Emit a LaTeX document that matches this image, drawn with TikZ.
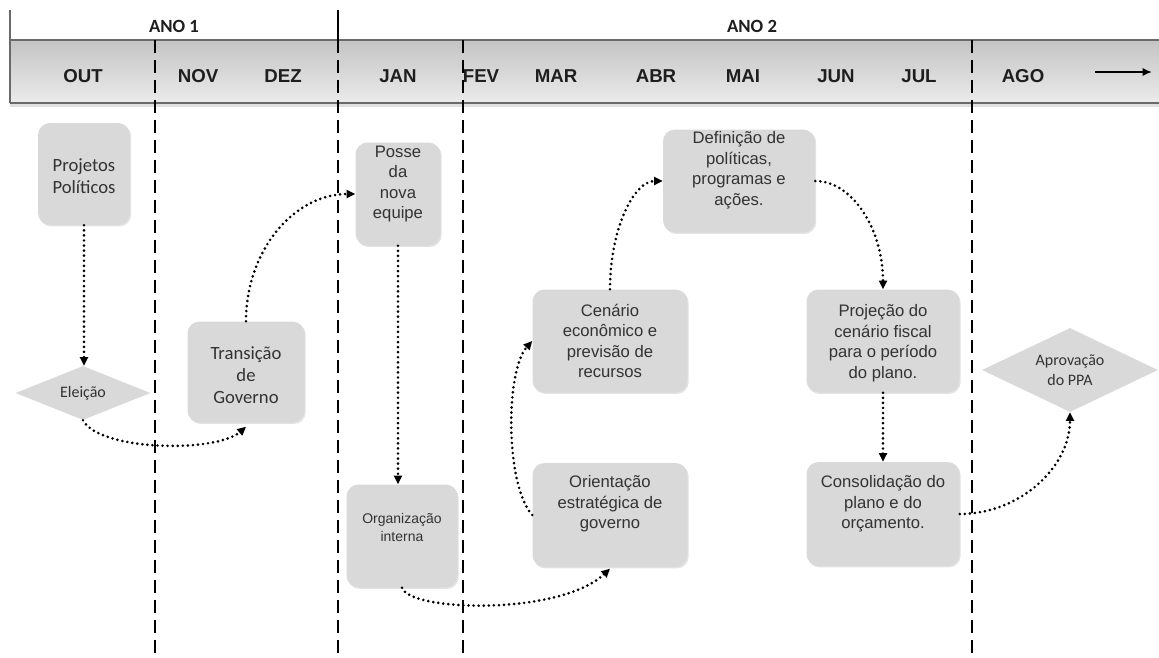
\documentclass[tikz,border=0pt]{standalone}
\usepackage{fontspec}
\setmainfont{Liberation Sans}
\newfontfamily\arial{Liberation Sans}
\newfontfamily\carl{Carlito}
\usetikzlibrary{arrows.meta,shapes.geometric,shadows}
\definecolor{boxfill}{HTML}{D9D9D9}
\definecolor{txtc}{HTML}{333333}
\definecolor{bandtop}{HTML}{C4C4C4}
\definecolor{bandbot}{HTML}{EBEBEB}
\definecolor{bandline}{HTML}{6A6A6A}
\definecolor{monthc}{HTML}{1E1E1E}
\begin{document}
\begin{tikzpicture}[x=0.75pt,y=-0.75pt,
  box/.style={fill=boxfill, rounded corners=9pt, inner sep=0pt,
    drop shadow={shadow xshift=0.9pt, shadow yshift=-1.1pt, opacity=0.22}},
  dia/.style={diamond, fill=boxfill, inner sep=0pt, aspect=2.5},
  txt/.style={align=center, text=txtc, inner sep=0pt, font=\arial\fontsize{12.5}{15.4}\selectfont},
  stxt/.style={align=center, text=txtc, inner sep=0pt, font=\arial\fontsize{10.5}{13.5}\selectfont},
  ctxt/.style={align=center, text=txtc, inner sep=0pt, font=\carl\fontsize{14}{16.5}\selectfont},
  cstxt/.style={align=center, text=txtc, inner sep=0pt, font=\carl\fontsize{12}{15}\selectfont},
  month/.style={text=monthc, inner sep=0pt, font=\arial\bfseries\fontsize{14}{16}\selectfont},
  year/.style={text=monthc, inner sep=0pt, font=\carl\bfseries\fontsize{14}{16}\selectfont},
  flow/.style={line width=2.2pt, line cap=round, dash pattern=on 0pt off 3.8pt,
    -{Triangle[length=6.5pt,width=6pt]}},
  vline/.style={line width=2.2pt, dash pattern=on 9.75pt off 5.25pt}]
\useasboundingbox (0,0) rectangle (1159,657);
% band
\shade[top color=bandtop, bottom color=bandbot] (10,40) rectangle (1159,103);
\fill[black!12] (10,103) rectangle (1159,107);
\draw[bandline, line width=1.5pt] (10,40) -- (1159,40);
\draw[bandline, line width=1.9pt] (10,103) -- (1159,103);
\coordinate (lt) at (10,10);
\coordinate (lb) at (10,103);
\draw[bandline, line width=1.5pt] (lt) -- (lb);
\coordinate (st) at (338,10);
\coordinate (sb) at (338,40);
\draw[black, line width=1.1pt] (st) -- (sb);
% year labels
\node[year] (ano1) at (174,26) {ANO 1};
\node[year] (ano2) at (752,26) {ANO 2};
% months
\node[month] (m1) at (83,76) {OUT};
\node[month] (m2) at (198,76) {NOV};
\node[month] (m3) at (283,76) {DEZ};
\node[month] (m4) at (398,76) {JAN};
\node[month] (m5) at (481,76) {FEV};
\node[month] (m6) at (556,76) {MAR};
\node[month] (m7) at (656,76) {ABR};
\node[month] (m8) at (743,76) {MAI};
\node[month] (m9) at (836,76) {JUN};
\node[month] (m10) at (919,76) {JUL};
\node[month] (m11) at (1023,76) {AGO};
\coordinate (ar1) at (1095,72);
\coordinate (ar2) at (1152,72);
\draw[line width=1.2pt, -{Latex[length=7pt,width=6pt]}] (ar1) -- (ar2);
% dashed vertical lines
\foreach \xx/\nm in {155/a,338/b,463/c,972/d}{
  \coordinate (v\nm t) at (\xx,40);
  \coordinate (v\nm b) at (\xx,657);
  \draw[vline] (v\nm t) -- (v\nm b);
}
% boxes
\node[box, minimum width=69pt, minimum height=76.5pt] (pp) at (84,174) {};
\node[ctxt] (ppT) at (84,176) {Projetos\\Políticos};
\node[dia, minimum width=101.25pt, minimum height=40.5pt] (ele) at (83,393) {};
\node[cstxt] (eleT) at (83,393) {Eleição};
\node[box, minimum width=87.75pt, minimum height=75.75pt] (tr) at (246,372) {};
\node[ctxt] (trT) at (246,375) {Transição\\de\\Governo};
\node[box, minimum width=63.75pt, minimum height=77.25pt] (po) at (398,194) {};
\node[txt] (poT) at (398,184) {Posse\\da\\nova\\equipe};
\node[box, minimum width=83.25pt, minimum height=77.25pt] (org) at (402,536) {};
\node[stxt] (orgT) at (402,527) {Organização\\interna};
\node[box, minimum width=116.25pt, minimum height=77.25pt] (cen) at (610,341) {};
\node[txt] (cenT) at (610,341) {Cenário\\econômico e\\previsão de\\recursos};
\node[box, minimum width=116.25pt, minimum height=78pt] (ori) at (610,515) {};
\node[txt] (oriT) at (610,504) {Orientação\\estratégica de\\governo};
\node[box, minimum width=114pt, minimum height=77.25pt] (def) at (739,181) {};
\node[txt] (defT) at (739,170) {Definição de\\políticas,\\programas e\\ações.};
\node[box, minimum width=114.75pt, minimum height=77.25pt] (proj) at (883,341) {};
\node[txt] (projT) at (883,343) {Projeção do\\cenário fiscal\\para o período\\do plano.};
\node[box, minimum width=114.75pt, minimum height=78pt] (cons) at (883,514) {};
\node[txt] (consT) at (883,504) {Consolidação do\\plano e do\\orçamento.};
\node[dia, minimum width=132pt, minimum height=63pt] (apr) at (1070,370) {};
\node[cstxt] (aprT) at (1070,370) {Aprovação\\do PPA};
% connectors
\draw[flow] (pp.south) -- (pp.south |- ele.north);
\draw[flow] (ele.south) .. controls +(17,31) and +(-30,26) .. ([yshift=-3pt]tr.south);
\draw[flow] (tr.north) .. controls +(0,-71) and +(-61,0) .. (po.west);
\draw[flow] (po.south) -- (po.south |- org.north);
\draw[flow] (org.south) .. controls +(8,24) and +(-50,47) .. ([yshift=-1pt]ori.south);
\draw[flow] (ori.west) .. controls +(-27,-30) and +(-27,30) .. (cen.west);
\draw[flow] (cen.north) .. controls +(0,-60) and +(-29,0) .. (def.west);
\draw[flow] (def.east) .. controls +(37,0) and +(0,-60) .. (proj.north);
\draw[flow] (proj.south) -- (proj.south |- cons.north);
\draw[flow] (cons.east) .. controls +(60,0) and +(0,55) .. (apr.south);
\end{tikzpicture}
\end{document}
